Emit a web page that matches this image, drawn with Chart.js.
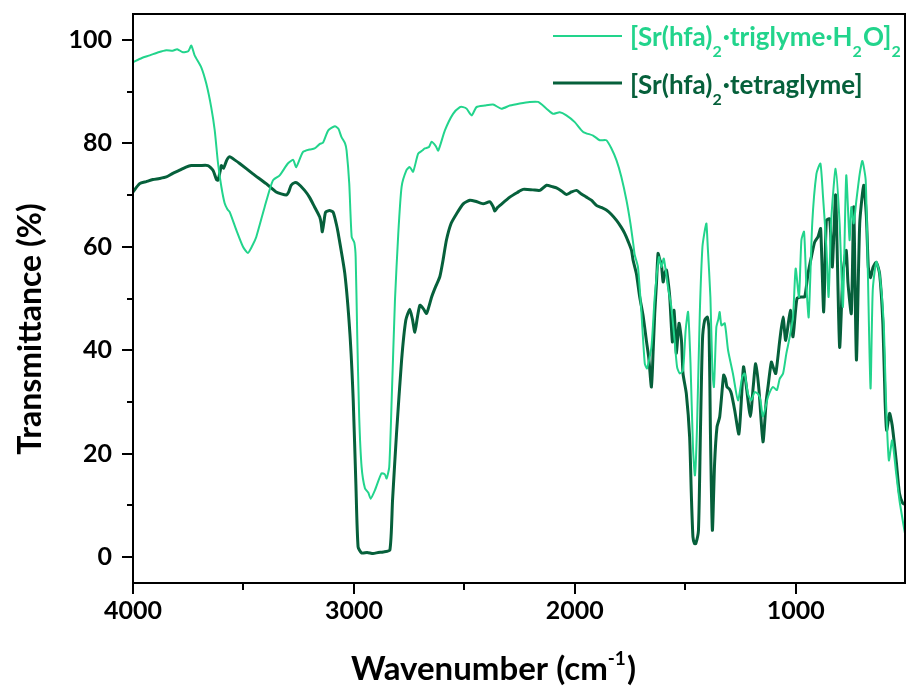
<!DOCTYPE html>
<html>
<head>
<meta charset="utf-8">
<script src="https://cdn.jsdelivr.net/npm/chart.js@4.4.1/dist/chart.umd.min.js"></script>
<style>
  html, body { margin: 0; padding: 0; background: #fff; }
  #wrap { width: 906px; height: 690px; position: relative; }
</style>
</head>
<body>
<div id="wrap"><canvas id="irChart"></canvas></div>
<script>
// [Sr(hfa)2·triglyme·H2O]2 spectrum (wavenumber, transmittance %)
const trigWn = [4000, 3960, 3924, 3885, 3849, 3820, 3800, 3774, 3750, 3736, 3721, 3691, 3668, 3646, 3630, 3615, 3600, 3585, 3572, 3562,
  3532, 3502, 3480, 3460, 3442, 3404, 3367, 3336, 3299, 3275, 3261, 3231, 3200, 3178, 3154, 3140, 3116, 3086, 3070, 3056,
  3040, 3033, 3021, 3010, 2998, 2992, 2985, 2976, 2965, 2950, 2935, 2924, 2905, 2875, 2860, 2852, 2840, 2829, 2814, 2799,
  2784, 2762, 2747, 2732, 2709, 2690, 2679, 2660, 2648, 2630, 2618, 2588, 2551, 2520, 2505, 2490, 2467, 2445, 2407, 2370,
  2332, 2294, 2249, 2204, 2166, 2128, 2098, 2068, 2038, 2000, 1962, 1917, 1887, 1857, 1834, 1811, 1789, 1766, 1748, 1735,
  1729, 1714, 1698, 1683, 1673, 1653, 1638, 1619, 1608, 1597, 1578, 1563, 1548, 1537, 1525, 1510, 1498, 1487, 1476, 1465,
  1456, 1447, 1434, 1422, 1410, 1404, 1398, 1386, 1377, 1370, 1359, 1350, 1344, 1336, 1321, 1306, 1284, 1261, 1242, 1231,
  1216, 1201, 1186, 1171, 1160, 1148, 1125, 1103, 1085, 1072, 1057, 1042, 1030, 1012, 1000, 985, 974, 962, 952, 941,
  925, 906, 888, 876, 861, 851, 839, 819, 801, 786, 771, 756, 748, 737, 725, 710, 698, 683, 673, 661,
  651, 635, 620, 602, 590, 578, 563, 545, 530, 511, 505];
const trigT = [95.7, 96.5, 97.0, 97.6, 98.0, 97.9, 98.2, 97.6, 97.8, 98.9, 97.0, 94.7, 91.5, 87.0, 82.5, 76.1, 71.6, 68.4, 67.2, 66.7,
  63.2, 60.0, 58.8, 60.2, 61.9, 67.7, 72.8, 73.8, 76.1, 76.8, 75.4, 78.3, 78.8, 79.0, 79.9, 80.1, 82.5, 83.3, 82.8, 81.2,
  80.0, 78.6, 72.2, 61.9, 60.8, 58.0, 43.2, 27.1, 17.4, 13.3, 12.5, 11.3, 12.9, 16.2, 16.0, 15.2, 17.4, 30.3, 49.7, 62.6,
  71.6, 74.8, 75.4, 74.5, 78.0, 78.6, 79.0, 79.3, 80.3, 79.5, 78.6, 82.5, 85.7, 87.0, 87.0, 86.7, 85.4, 87.0, 87.3, 87.5,
  86.7, 87.3, 87.7, 88.0, 88.0, 86.7, 85.7, 86.0, 85.4, 84.1, 82.2, 81.5, 80.6, 80.6, 79.0, 76.7, 73.5, 69.0, 64.5, 60.5,
  58.5, 56.1, 47.1, 37.4, 36.5, 40.6, 50.3, 58.0, 56.1, 57.7, 52.2, 48.4, 41.9, 36.8, 35.5, 36.1, 43.9, 47.4, 37.4, 21.3,
  15.8, 24.5, 47.1, 60.0, 63.5, 64.5, 60.0, 50.3, 36.1, 32.9, 44.5, 46.0, 47.4, 44.8, 45.2, 40.0, 35.5, 30.3, 34.8, 35.5,
  31.6, 30.3, 31.9, 31.6, 30.5, 27.2, 31.0, 32.9, 32.3, 34.5, 35.5, 39.4, 41.9, 46.4, 55.8, 50.3, 61.3, 62.9, 52.9, 46.4,
  64.5, 74.1, 76.1, 69.6, 60.0, 50.3, 65.1, 75.1, 64.5, 48.4, 73.8, 61.3, 67.7, 64.5, 69.0, 74.1, 76.6, 72.9, 54.8, 32.6,
  51.6, 57.1, 54.8, 45.8, 29.0, 18.7, 22.6, 16.2, 11.0, 6.0, 4.6];

// [Sr(hfa)2·tetraglyme] spectrum
const tetraWn = [4000, 3970, 3940, 3910, 3880, 3849, 3820, 3789, 3760, 3736, 3698, 3661, 3638, 3622, 3615, 3606, 3600, 3590, 3575, 3562,
  3540, 3517, 3457, 3397, 3352, 3306, 3295, 3284, 3268, 3253, 3223, 3200, 3178, 3155, 3148, 3143, 3135, 3128, 3110, 3094,
  3080, 3071, 3041, 3018, 3003, 2991, 2981, 2965, 2940, 2913, 2890, 2867, 2837, 2825, 2807, 2784, 2765, 2747, 2735, 2724,
  2712, 2701, 2685, 2671, 2648, 2630, 2611, 2596, 2581, 2560, 2535, 2505, 2475, 2450, 2415, 2385, 2370, 2362, 2350, 2339,
  2294, 2260, 2234, 2190, 2158, 2128, 2100, 2083, 2060, 2038, 2015, 1992, 1970, 1947, 1925, 1902, 1880, 1857, 1835, 1811,
  1790, 1774, 1758, 1743, 1736, 1721, 1706, 1690, 1676, 1665, 1653, 1645, 1638, 1630, 1623, 1615, 1608, 1600, 1592, 1585,
  1578, 1570, 1558, 1551, 1545, 1540, 1528, 1517, 1510, 1495, 1480, 1472, 1465, 1458, 1452, 1440, 1431, 1422, 1412, 1400,
  1392, 1386, 1377, 1367, 1356, 1344, 1326, 1318, 1311, 1300, 1291, 1276, 1257, 1245, 1236, 1223, 1205, 1192, 1181, 1166,
  1148, 1133, 1125, 1110, 1100, 1090, 1072, 1057, 1045, 1024, 1012, 994, 974, 959, 944, 929, 914, 899, 887, 873,
  861, 846, 834, 819, 801, 786, 771, 763, 748, 737, 725, 710, 692, 680, 671, 661, 650, 635, 620, 605,
  595, 588, 575, 563, 545, 530, 515, 505];
const tetraT = [70.6, 72.2, 72.6, 73.0, 73.2, 73.5, 74.2, 74.8, 75.4, 75.7, 75.7, 75.7, 74.8, 73.0, 72.9, 74.5, 75.7, 75.2, 76.8, 77.4,
  76.8, 76.1, 74.1, 72.2, 70.6, 70.0, 70.6, 71.9, 72.4, 72.2, 70.9, 69.5, 67.7, 65.8, 64.5, 62.9, 65.0, 66.7, 67.0, 66.7,
  64.5, 62.6, 54.8, 43.2, 30.3, 14.2, 2.0, 0.8, 0.9, 0.7, 0.9, 1.0, 1.4, 11.0, 23.9, 38.1, 45.8, 47.9, 46.0, 43.5,
  46.5, 48.7, 48.0, 47.1, 50.3, 52.3, 54.2, 57.5, 61.3, 64.5, 66.4, 68.3, 69.0, 68.8, 68.3, 68.7, 67.8, 66.9, 67.6, 68.0,
  69.6, 70.5, 71.1, 71.0, 70.9, 71.9, 71.6, 71.4, 70.8, 70.1, 70.6, 70.9, 70.2, 69.6, 69.0, 68.0, 67.6, 67.1, 66.3, 65.1,
  63.8, 62.6, 61.0, 59.3, 57.4, 54.8, 50.3, 46.5, 41.9, 38.5, 32.9, 40.0, 47.1, 53.0, 58.7, 57.5, 56.7, 53.2, 55.0, 55.5,
  53.5, 50.3, 41.6, 47.7, 44.0, 39.4, 45.2, 41.9, 35.5, 31.6, 23.2, 11.7, 3.9, 2.6, 2.6, 5.2, 24.5, 41.9, 45.8, 46.4,
  43.9, 24.5, 5.2, 18.1, 25.2, 27.1, 35.2, 34.5, 32.9, 32.5, 31.6, 28.4, 23.8, 31.0, 36.8, 32.9, 27.2, 33.0, 37.4, 32.3,
  22.3, 30.3, 33.0, 37.7, 36.5, 35.5, 41.9, 46.4, 41.9, 47.7, 42.6, 50.0, 50.3, 50.3, 54.8, 58.0, 60.9, 61.9, 63.5, 47.4,
  65.1, 65.4, 56.1, 70.0, 40.6, 54.8, 59.3, 52.9, 47.1, 67.7, 38.1, 64.5, 71.9, 66.0, 56.0, 54.0, 56.0, 57.0, 54.8, 45.0,
  30.0, 24.5, 27.8, 25.5, 18.7, 12.3, 10.4, 10.2];

const xTicks = [4000, 3500, 3000, 2500, 2000, 1500, 1000];
const yTicks = [0, 10, 20, 30, 40, 50, 60, 70, 80, 90, 100];

const trigColor = '#22d48c';
const tetraColor = '#06603b';
const FONT = 'Lato, "Open Sans", sans-serif';

// legend / axis titles, split into [text, mode] pieces for sub/superscripts
const legendTrig = [['[Sr(hfa)', 'n'], ['2', 'sub'], ['\u00b7triglyme\u00b7H', 'n'], ['2', 'sub'], ['O]', 'n'], ['2', 'sub']];
const legendTetra = [['[Sr(hfa)', 'n'], ['2', 'sub'], ['\u00b7tetraglyme]', 'n']];
const xTitle = [['Wavenumber (cm', 'n'], ['-1', 'sup'], [')', 'n']];
const yTitle = [['Transmittance (%)', 'n']];

const toPoints = (wn, t) => wn.map((w, i) => ({ x: w, y: t[i] }));

function richWidth(ctx, segs, size) {
  let w = 0;
  segs.forEach(([t, mode]) => {
    const s = mode === 'n' ? size : Math.round(size * 0.6);
    ctx.font = `bold ${s}px ${FONT}`;
    w += ctx.measureText(t).width + (mode === 'n' ? 0 : 1);
  });
  return w;
}

function drawRich(ctx, segs, x, y, size, color) {
  ctx.fillStyle = color;
  ctx.textBaseline = 'alphabetic';
  ctx.textAlign = 'left';
  segs.forEach(([t, mode]) => {
    let s = size, dy = 0;
    if (mode === 'sub') { s = Math.round(size * 0.6); dy = size * 0.42; }
    if (mode === 'sup') { s = Math.round(size * 0.58); dy = -size * 0.45; }
    ctx.font = `bold ${s}px ${FONT}`;
    ctx.fillText(t, x, y + dy);
    x += ctx.measureText(t).width + (mode === 'n' ? 0 : 1);
  });
}

const decorations = {
  id: 'decorations',
  afterDraw(chart) {
    const { ctx, chartArea: a, scales } = chart;
    ctx.save();
    ctx.strokeStyle = '#000';
    ctx.lineWidth = 2;
    ctx.strokeRect(a.left, a.top, a.right - a.left, a.bottom - a.top);

    ctx.beginPath();
    yTicks.forEach(v => {
      const py = Math.round(scales.y.getPixelForValue(v));
      const len = v % 20 === 0 ? 11 : 6;
      ctx.moveTo(a.left - len, py);
      ctx.lineTo(a.left, py);
    });
    xTicks.forEach(v => {
      const px = Math.round(scales.x.getPixelForValue(v));
      const len = v % 1000 === 0 ? 11 : 7;
      ctx.moveTo(px, a.bottom);
      ctx.lineTo(px, a.bottom + len);
    });
    ctx.stroke();

    // legend
    ctx.lineWidth = 2;
    ctx.strokeStyle = trigColor;
    ctx.beginPath(); ctx.moveTo(553, 36); ctx.lineTo(622, 36); ctx.stroke();
    ctx.lineWidth = 3;
    ctx.strokeStyle = tetraColor;
    ctx.beginPath(); ctx.moveTo(553, 83); ctx.lineTo(622, 83); ctx.stroke();
    drawRich(ctx, legendTrig, 630, 46, 26, trigColor);
    drawRich(ctx, legendTetra, 630, 94, 26, tetraColor);

    // axis titles
    const xw = richWidth(ctx, xTitle, 33);
    drawRich(ctx, xTitle, 494 - xw / 2, 680, 33, '#000');
    ctx.save();
    ctx.translate(41, 329);
    ctx.rotate(-Math.PI / 2);
    const yw = richWidth(ctx, yTitle, 32);
    drawRich(ctx, yTitle, -yw / 2, 0, 32, '#000');
    ctx.restore();
    ctx.restore();
  }
};

const tickFont = { family: FONT, weight: 'bold', size: 25 };

new Chart(document.getElementById('irChart'), {
  type: 'line',
  data: {
    datasets: [
      { label: '[Sr(hfa)2·triglyme·H2O]2', data: toPoints(trigWn, trigT), borderColor: trigColor, borderWidth: 2, pointRadius: 0, tension: 0.2, fill: false },
      { label: '[Sr(hfa)2·tetraglyme]', data: toPoints(tetraWn, tetraT), borderColor: tetraColor, borderWidth: 3, pointRadius: 0, tension: 0.2, fill: false }
    ]
  },
  options: {
    responsive: true,
    maintainAspectRatio: false,
    animation: false,
    devicePixelRatio: 1,
    layout: { padding: { left: 0, top: 14, right: 1, bottom: 0 } },
    plugins: { legend: { display: false }, tooltip: { enabled: false } },
    scales: {
      x: {
        type: 'linear',
        reverse: true,
        min: 505,
        max: 4000,
        afterBuildTicks: s => { s.ticks = xTicks.map(v => ({ value: v })); },
        afterFit: s => { s.height = 107; s.paddingLeft = 0; s.paddingRight = 0; },
        grid: { display: false, drawTicks: false },
        border: { display: false },
        ticks: {
          autoSkip: false, maxRotation: 0, padding: 13,
          font: tickFont, color: '#000',
          callback: v => (v % 1000 === 0 ? String(v) : '')
        }
      },
      y: {
        min: -5,
        max: 105,
        afterBuildTicks: s => { s.ticks = yTicks.map(v => ({ value: v })); },
        afterFit: s => { s.width = 133; s.paddingTop = 0; s.paddingBottom = 0; },
        grid: { display: false, drawTicks: false },
        border: { display: false },
        ticks: {
          padding: 21,
          font: tickFont, color: '#000',
          callback: v => (v % 20 === 0 ? String(v) : '')
        }
      }
    }
  },
  plugins: [decorations]
});
</script>
</body>
</html>
